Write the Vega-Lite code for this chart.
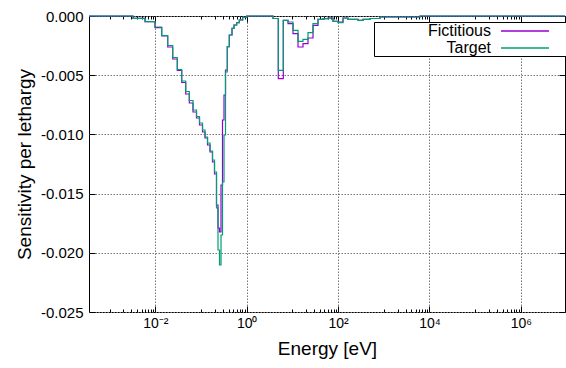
{
  "$schema": "https://vega.github.io/schema/vega-lite/v6.json",
  "width": 476,
  "height": 296,
  "autosize": "none",
  "padding": {"left": 89, "top": 16, "right": 1, "bottom": 56},
  "background": "white",
  "config": {
    "view": {"stroke": "black", "strokeWidth": 1},
    "font": "Liberation Sans",
    "axis": {
      "labelFont": "Liberation Sans",
      "titleFont": "Liberation Sans",
      "labelColor": "black",
      "titleColor": "black",
      "titleFontWeight": "normal",
      "tickColor": "black",
      "domain": false
    },
    "legend": {"labelFont": "Liberation Sans"}
  },
  "data": {
    "values": [
      {"E": 0.000354, "Fictitious": 0, "Target": 0},
      {"E": 0.00325, "Fictitious": -0.000194, "Target": -0.000194},
      {"E": 0.00595, "Fictitious": -0.000481, "Target": -0.000481},
      {"E": 0.00985, "Fictitious": -0.000988, "Target": -0.000929},
      {"E": 0.0138, "Fictitious": -0.001689, "Target": -0.001647},
      {"E": 0.01867, "Fictitious": -0.002618, "Target": -0.002492},
      {"E": 0.02403, "Fictitious": -0.003632, "Target": -0.003505},
      {"E": 0.0303, "Fictitious": -0.004603, "Target": -0.004519},
      {"E": 0.03782, "Fictitious": -0.005617, "Target": -0.00549},
      {"E": 0.04625, "Fictitious": -0.006588, "Target": -0.006377},
      {"E": 0.05546, "Fictitious": -0.007348, "Target": -0.007137},
      {"E": 0.06682, "Fictitious": -0.008108, "Target": -0.007939},
      {"E": 0.0797, "Fictitious": -0.008615, "Target": -0.008488},
      {"E": 0.09273, "Fictitious": -0.009206, "Target": -0.009037},
      {"E": 0.1079, "Fictitious": -0.009797, "Target": -0.009628},
      {"E": 0.1224, "Fictitious": -0.010304, "Target": -0.01022},
      {"E": 0.1388, "Fictitious": -0.010895, "Target": -0.010726},
      {"E": 0.1574, "Fictitious": -0.011486, "Target": -0.011402},
      {"E": 0.1785, "Fictitious": -0.012331, "Target": -0.012162},
      {"E": 0.1974, "Fictitious": -0.013345, "Target": -0.013176},
      {"E": 0.2184, "Fictitious": -0.015963, "Target": -0.016216},
      {"E": 0.2355, "Fictitious": -0.017905, "Target": -0.019764},
      {"E": 0.254, "Fictitious": -0.018243, "Target": -0.02103},
      {"E": 0.274, "Fictitious": -0.014274, "Target": -0.018497},
      {"E": 0.2955, "Fictitious": -0.008784, "Target": -0.01402},
      {"E": 0.3186, "Fictitious": -0.006672, "Target": -0.010051},
      {"E": 0.3436, "Fictitious": -0.004561, "Target": -0.00473},
      {"E": 0.3762, "Fictitious": -0.002593, "Target": -0.002593},
      {"E": 0.4161, "Fictitious": -0.001605, "Target": -0.001605},
      {"E": 0.4768, "Fictitious": -0.001039, "Target": -0.001039},
      {"E": 0.5274, "Fictitious": -0.00076, "Target": -0.00076},
      {"E": 0.6041, "Fictitious": -0.000566, "Target": -0.000566},
      {"E": 0.6889, "Fictitious": -0.000338, "Target": -0.000338},
      {"E": 0.8176, "Fictitious": -0.00011, "Target": -0.00011},
      {"E": 1.0, "Fictitious": 0, "Target": 0},
      {"E": 3.763, "Fictitious": -0.000211, "Target": -0.000211},
      {"E": 4.915, "Fictitious": -0.005296, "Target": -0.004586},
      {"E": 6.322, "Fictitious": -0.000363, "Target": -0.000363},
      {"E": 8.012, "Fictitious": -0.00065, "Target": -0.000507},
      {"E": 10.31, "Fictitious": -0.001495, "Target": -0.001208},
      {"E": 13.27, "Fictitious": -0.002618, "Target": -0.002137},
      {"E": 17.06, "Fictitious": -0.00234, "Target": -0.001968},
      {"E": 21.95, "Fictitious": -0.001858, "Target": -0.00141},
      {"E": 28.24, "Fictitious": -0.000785, "Target": -0.00065},
      {"E": 36.33, "Fictitious": -0.000279, "Target": -0.000279},
      {"E": 46.72, "Fictitious": -0.000228, "Target": -0.000228},
      {"E": 60.12, "Fictitious": -0.000169, "Target": -0.000169},
      {"E": 77.33, "Fictitious": -0.000448, "Target": -0.000448},
      {"E": 99.5, "Fictitious": -0.000507, "Target": -0.000566},
      {"E": 128.0, "Fictitious": -0.000169, "Target": -0.000169},
      {"E": 164.7, "Fictitious": -0.000279, "Target": -0.000279},
      {"E": 272.5, "Fictitious": -0.000363, "Target": -0.000363},
      {"E": 350.6, "Fictitious": -0.000279, "Target": -0.000279},
      {"E": 498.9, "Fictitious": -0.000211, "Target": -0.000211},
      {"E": 825.5, "Fictitious": -0.000084, "Target": -0.000084},
      {"E": 6196, "Fictitious": 0, "Target": 0},
      {"E": 9230000, "Fictitious": 0, "Target": 0}
    ]
  },
  "transform": [{"fold": ["Fictitious", "Target"], "as": ["series", "s"]}],
  "layer": [
    {
      "transform": [{"filter": "datum.series == 'Fictitious'"}],
      "mark": {"type": "line", "interpolate": "step-after", "strokeWidth": 1.2},
      "encoding": {
        "x": {
          "field": "E", "type": "quantitative",
          "scale": {"type": "log", "domain": [0.000354, 9230000], "nice": false},
          "axis": {
            "orient": "bottom",
            "title": "Energy [eV]",
            "titleFontSize": 19,
            "titlePadding": 6,
            "labelFontSize": 14,
            "labelPadding": 10,
            "labelOverlap": false,
            "labelFlush": false,
            "values": [0.001, 0.002, 0.003, 0.004, 0.005, 0.006, 0.007, 0.008, 0.009, 0.01, 0.1, 0.2, 0.3, 0.4, 0.5, 0.6, 0.7, 0.8, 0.9, 1, 10, 20, 30, 40, 50, 60, 70, 80, 90, 100, 1000, 2000, 3000, 4000, 5000, 6000, 7000, 8000, 9000, 10000, 100000, 200000, 300000, 400000, 500000, 600000, 700000, 800000, 900000, 1000000],
            "labelExpr": "datum.value == 0.01 ? '10⁻²' : datum.value == 1 ? '10⁰' : datum.value == 100 ? '10²' : datum.value == 10000 ? '10⁴' : datum.value == 1000000 ? '10⁶' : ''",
            "grid": true,
            "gridColor": "#777777",
            "gridDash": [1.5, 1.5],
            "gridOpacity": {"condition": {"test": "abs(log(datum.value)/LN10 - round(log(datum.value)/LN10)) < 0.001 && round(log(datum.value)/LN10) % 2 == 0", "value": 1}, "value": 0},
            "tickSize": {"condition": {"test": "abs(log(datum.value)/LN10 - round(log(datum.value)/LN10)) < 0.001 && round(log(datum.value)/LN10) % 2 == 0", "value": -6}, "value": -3}
          }
        },
        "y": {
          "field": "s", "type": "quantitative",
          "scale": {"domain": [-0.025, 0], "nice": false, "zero": false},
          "axis": {
            "orient": "left",
            "title": "Sensitivity per lethargy",
            "titleFontSize": 19,
            "titlePadding": 6,
            "labelFontSize": 15,
            "labelPadding": 12,
            "values": [-0.025, -0.02, -0.015, -0.01, -0.005, 0],
            "labelExpr": "datum.value == 0 ? '0.000' : '-' + format(abs(datum.value), '.3f')",
            "grid": true,
            "gridColor": "#777777",
            "gridDash": [1.5, 1.5],
            "tickSize": -6
          }
        },
        "color": {
          "field": "series", "type": "nominal",
          "scale": {"domain": ["Fictitious", "Target"], "range": ["#9400d3", "#009e73"]},
          "legend": {
            "title": null,
            "orient": "none",
            "legendX": 285,
            "legendY": 6,
            "strokeColor": "black",
            "fillColor": "white",
            "padding": 0,
            "rowPadding": 0,
            "symbolType": "M-18.875,0M-3,0H3M4.95,0",
            "symbolSize": 256,
            "symbolStrokeWidth": 1.5,
            "symbolOffset": 142,
            "labelAlign": "right",
            "labelOffset": -43,
            "labelFontSize": 16,
            "labelColor": "black"
          }
        }
      }
    },
    {
      "transform": [{"filter": "datum.series == 'Target'"}],
      "mark": {"type": "line", "interpolate": "step-after", "strokeWidth": 1.2},
      "encoding": {
        "x": {
          "field": "E", "type": "quantitative",
          "axis": {
            "orient": "top",
            "title": null,
            "labels": false,
            "grid": false,
            "values": [0.001, 0.002, 0.003, 0.004, 0.005, 0.006, 0.007, 0.008, 0.009, 0.01, 0.1, 0.2, 0.3, 0.4, 0.5, 0.6, 0.7, 0.8, 0.9, 1, 10, 20, 30, 40, 50, 60, 70, 80, 90, 100, 1000, 2000, 3000, 4000, 5000, 6000, 7000, 8000, 9000, 10000, 100000, 200000, 300000, 400000, 500000, 600000, 700000, 800000, 900000, 1000000],
            "tickSize": {"condition": {"test": "abs(log(datum.value)/LN10 - round(log(datum.value)/LN10)) < 0.001 && round(log(datum.value)/LN10) % 2 == 0", "value": -6}, "value": -3}
          }
        },
        "y": {
          "field": "s", "type": "quantitative",
          "axis": {
            "orient": "right",
            "title": null,
            "labels": false,
            "grid": false,
            "values": [-0.025, -0.02, -0.015, -0.01, -0.005, 0],
            "tickSize": -6
          }
        },
        "color": {"field": "series", "type": "nominal"}
      }
    }
  ],
  "resolve": {"axis": {"x": "independent", "y": "independent"}}
}
